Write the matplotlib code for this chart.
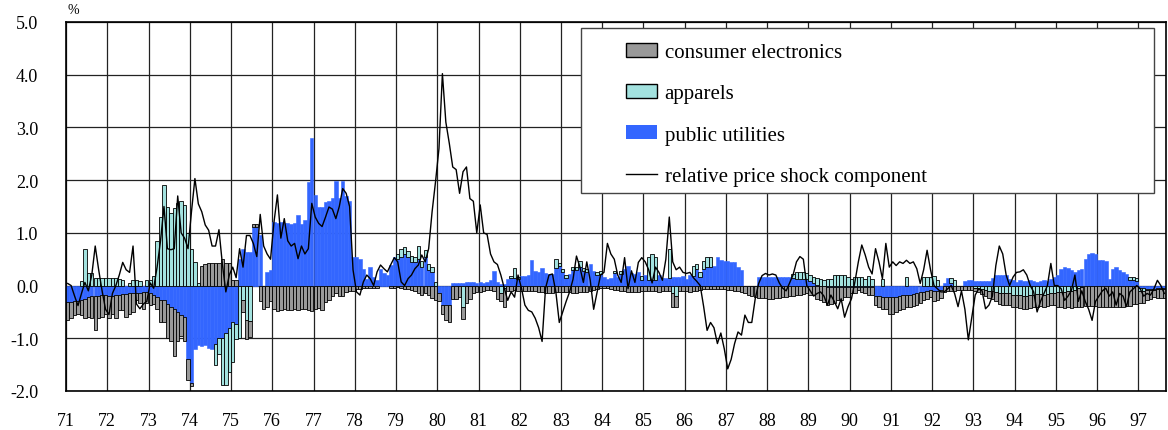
import numpy as np
import matplotlib
matplotlib.use('Agg')
import matplotlib.pyplot as plt
from matplotlib.patches import Rectangle, Patch
from matplotlib.lines import Line2D

plt.rcParams['font.family'] = 'Liberation Serif'
plt.rcParams['axes.unicode_minus'] = False

start_year = 1971

# monthly contributions, one row per year (1971 ... 1997 Aug)
utilities = [
    -0.32, -0.32, -0.3, -0.3, -0.28, -0.25, -0.22, -0.2, -0.2, -0.2, -0.18, -0.18,
    -0.2, -0.2, -0.18, -0.18, -0.16, -0.16, -0.15, -0.15, -0.15, -0.15, -0.12, -0.12,
    -0.15, -0.18, -0.22, -0.28, -0.28, -0.35, -0.4, -0.45, -0.5, -0.55, -0.6, -1.4,
    -1.85, -1.2, -1.13, -1.15, -1.13, -1.18, -1.2, -1.1, -1.0, -1.0, -0.9, -0.8,
    -0.7, -0.72, 0.5, 0.69, 0.64, 0.64, 1.12, 1.12, 0.95, 0.0, 0.26, 0.29,
    1.2, 1.18, 1.2, 1.19, 1.18, 1.17, 1.18, 1.33, 1.16, 1.25, 1.96, 2.79,
    1.72, 1.5, 1.49, 1.58, 1.6, 1.67, 1.98, 1.67, 1.98, 1.7, 1.61, 0.54,
    0.54, 0.51, 0.32, 0.13, 0.35, 0.16, 0.1, 0.32, 0.23, 0.2, 0.39, 0.54,
    0.5, 0.55, 0.6, 0.55, 0.45, 0.45, 0.5, 0.35, 0.55, 0.3, 0.25, 0.0,
    -0.15, -0.37, -0.37, -0.37, 0.05, 0.05, 0.05, 0.05, 0.06, 0.06, 0.06, 0.05,
    0.06, 0.05, 0.06, 0.1, 0.28, 0.06, 0.03, 0.03, 0.12, 0.14, 0.15, 0.12,
    0.19, 0.19, 0.2, 0.48, 0.28, 0.25, 0.34, 0.24, 0.22, 0.22, 0.34, 0.38,
    0.25, 0.15, 0.22, 0.3, 0.3, 0.35, 0.28, 0.26, 0.4, 0.28, 0.2, 0.22,
    0.16, 0.13, 0.14, 0.24, 0.16, 0.22, 0.31, 0.38, 0.24, 0.22, 0.26, 0.1,
    0.2, 0.1, 0.1, 0.1, 0.2, 0.15, 0.15, 0.15, 0.16, 0.16, 0.16, 0.18,
    0.12, 0.2, 0.19, 0.31, 0.16, 0.31, 0.35, 0.35, 0.38, 0.54, 0.48, 0.46,
    0.46, 0.45, 0.45, 0.35, 0.29, 0.0, 0.0, 0.0, 0.0, 0.17, 0.17, 0.17,
    0.17, 0.17, 0.17, 0.17, 0.17, 0.17, 0.17, 0.15, 0.13, 0.13, 0.13, 0.13,
    0.08, 0.05, 0.02, 0.0, 0.0, -0.03, -0.03, -0.03, -0.03, -0.03, -0.03, -0.03,
    -0.03, -0.03, -0.03, -0.02, -0.02, -0.02, -0.02, -0.2, -0.2, -0.22, -0.22, -0.22,
    -0.22, -0.22, -0.2, -0.18, -0.18, -0.18, -0.16, -0.15, -0.13, -0.12, -0.1, -0.08,
    -0.1, -0.1, -0.08, 0.05, 0.15, 0.05, 0.0, 0.0, 0.0, 0.08, 0.1, 0.1,
    0.08, 0.08, 0.08, 0.08, 0.08, 0.15, 0.2, 0.2, 0.2, 0.2, 0.12, 0.1,
    0.07, 0.1, 0.09, 0.08, 0.1, 0.09, 0.07, 0.08, 0.1, 0.08, 0.13, 0.16,
    0.2, 0.32, 0.35, 0.34, 0.3, 0.26, 0.29, 0.32, 0.5, 0.6, 0.62, 0.6,
    0.48, 0.48, 0.46, 0.13, 0.32, 0.35, 0.3, 0.26, 0.22, 0.1, 0.1, 0.08,
    -0.05, -0.05, -0.06, -0.06, -0.06, -0.05, -0.05, -0.05,
]

apparels = [
    0, 0, 0, 0, 0.08, 0.7, 0.24, 0.24, 0.14, 0.14, 0.14, 0.14,
    0.14, 0.14, 0.14, 0.12, 0.1, 0, 0.05, 0.1, 0.1, 0.08, 0, 0.1,
    0.1, 0.19, 0.84, 1.31, 1.9, 1.5, 1.37, 1.47, 1.56, 1.6, 1.53, 1.0,
    0.7, 0.45, 0.05, 0, 0, 0, 0, -0.4, -0.3, -0.89, -0.99, -0.84,
    -0.75, -0.3, -1.0, -0.28, -0.66, -0.68, 0, 0, 0, 0, 0, 0,
    0, 0, 0, 0, 0, 0, 0, 0, 0, 0, 0, 0,
    0, 0, 0, 0, 0, 0, 0, 0, 0, 0, 0, 0,
    0, 0, 0, 0, 0, 0, 0, 0, 0, 0, 0, 0,
    0.1, 0.14, 0.14, 0.1, 0.12, 0.1, 0.25, 0.12, 0.12, 0.1, 0.1, 0.06,
    0, 0, 0, 0, 0, 0, 0, -0.4, 0, 0, 0, 0,
    0, 0, 0, 0, 0, 0, -0.15, -0.05, 0, 0.05, 0.18, 0.05,
    0, 0, 0, 0, 0, 0, 0, 0, 0, 0, 0.16, 0.05,
    0.06, 0.05, 0, 0.05, 0.05, 0.12, 0.05, 0.05, 0, 0, 0.05, 0.05,
    0, 0, 0, 0.04, 0, 0.05, 0, 0, 0, 0, 0, 0.08,
    0, 0.45, 0.5, 0.45, 0, 0, 0, 0.55, -0.15, -0.2, 0, 0,
    0, 0, 0.19, 0.09, 0.1, 0.16, 0.19, 0.19, 0, 0, 0, 0,
    0, 0, 0, 0, 0, 0, 0, 0, 0, 0, 0, 0,
    0, 0, 0, 0, 0, 0, 0, 0.07, 0.12, 0.13, 0.12, 0.1,
    0.13, 0.12, 0.12, 0.13, 0.11, 0.13, 0.12, 0.21, 0.21, 0.21, 0.2, 0.17,
    0.13, 0.16, 0.16, 0.16, 0.13, 0.18, 0.13, 0, 0, 0.13, 0, 0,
    0, 0, 0, 0, 0.16, 0, 0, 0, 0, 0.16, 0.16, 0.16,
    0.19, 0.1, 0, 0, 0, 0.1, 0.1, 0, 0, 0, 0, 0,
    -0.05, -0.05, -0.06, -0.08, -0.1, -0.1, -0.12, -0.15, -0.15, -0.15, -0.15, -0.18,
    -0.18, -0.18, -0.2, -0.2, -0.18, -0.18, -0.16, -0.16, -0.18, -0.16, -0.15, -0.15,
    -0.12, -0.12, -0.12, -0.1, -0.1, -0.08, -0.05, -0.03, 0, 0, 0, 0,
    0, 0, 0, 0, 0, 0, 0, 0, 0, 0.07, 0.07, 0.07,
    -0.05, -0.05, -0.03, -0.03, -0.02, -0.02, -0.02, -0.02,
]

electronics = [
    -0.33, -0.3, -0.26, -0.23, -0.28, -0.37, -0.38, -0.42, -0.64, -0.42, -0.42, -0.35,
    -0.42, -0.33, -0.44, -0.28, -0.31, -0.44, -0.38, -0.35, -0.13, -0.19, -0.32, -0.22,
    -0.22, -0.17, -0.23, -0.41, -0.41, -0.65, -0.65, -0.89, -0.55, -0.4, -0.45, -0.4,
    -0.05, 0, 0, 0.38, 0.4, 0.42, 0.42, 0.42, 0.43, 0.5, 0.42, 0.42,
    0.1, 0.1, 0, -0.22, -0.35, -0.3, 0.05, 0.05, -0.3, -0.45, -0.4, -0.3,
    -0.45, -0.48, -0.47, -0.45, -0.47, -0.47, -0.45, -0.46, -0.44, -0.44, -0.46, -0.48,
    -0.45, -0.42, -0.47, -0.32, -0.28, -0.2, -0.15, -0.2, -0.2, -0.12, -0.1, -0.1,
    -0.06, -0.06, -0.05, -0.05, -0.05, -0.05, -0.05, 0, 0, 0, -0.04, -0.05,
    -0.03, -0.04, -0.06, -0.06, -0.08, -0.1, -0.15, -0.18, -0.15, -0.18, -0.24, -0.27,
    -0.15, -0.16, -0.29, -0.32, -0.25, -0.25, -0.22, -0.23, -0.34, -0.25, -0.15, -0.12,
    -0.12, -0.1, -0.08, -0.08, -0.1, -0.25, -0.15, -0.35, -0.1, -0.1, -0.08, -0.1,
    -0.1, -0.1, -0.1, -0.1, -0.1, -0.12, -0.12, -0.15, -0.15, -0.15, -0.12, -0.12,
    -0.12, -0.12, -0.12, -0.14, -0.14, -0.13, -0.12, -0.12, -0.1, -0.08, -0.06, -0.05,
    -0.05, -0.05, -0.06, -0.08, -0.08, -0.1, -0.1, -0.12, -0.12, -0.12, -0.12, -0.1,
    -0.1, -0.1, -0.1, -0.1, -0.12, -0.1, -0.1, -0.1, -0.25, -0.2, -0.1, -0.1,
    -0.1, -0.12, -0.1, -0.1, -0.08, -0.06, -0.06, -0.06, -0.06, -0.06, -0.06, -0.07,
    -0.08, -0.08, -0.1, -0.1, -0.12, -0.15, -0.18, -0.2, -0.22, -0.24, -0.24, -0.24,
    -0.25, -0.25, -0.24, -0.24, -0.22, -0.22, -0.2, -0.2, -0.18, -0.18, -0.16, -0.15,
    -0.18, -0.18, -0.25, -0.28, -0.32, -0.33, -0.32, -0.3, -0.25, -0.25, -0.18, -0.18,
    -0.12, -0.12, -0.06, -0.1, -0.13, -0.16, -0.16, -0.17, -0.2, -0.22, -0.22, -0.31,
    -0.31, -0.28, -0.27, -0.26, -0.23, -0.23, -0.23, -0.22, -0.21, -0.16, -0.15, -0.14,
    -0.2, -0.18, -0.15, -0.12, -0.1, -0.1, -0.1, -0.08, -0.08, -0.08, -0.08, -0.08,
    -0.06, -0.08, -0.1, -0.12, -0.14, -0.15, -0.18, -0.2, -0.22, -0.22, -0.22, -0.22,
    -0.22, -0.24, -0.24, -0.24, -0.24, -0.22, -0.24, -0.22, -0.22, -0.22, -0.22, -0.22,
    -0.28, -0.28, -0.3, -0.3, -0.32, -0.33, -0.35, -0.37, -0.38, -0.38, -0.38, -0.38,
    -0.4, -0.4, -0.4, -0.4, -0.4, -0.4, -0.4, -0.4, -0.38, -0.38, -0.35, -0.35,
    -0.24, -0.24, -0.19, -0.16, -0.14, -0.16, -0.17, -0.16,
]

shock = [
    0.04, 0.0, -0.2, -0.38, -0.15, 0.06, -0.1, 0.2, 0.75, 0.3, -0.1, -0.45,
    -0.55, -0.15, 0.0, 0.2, 0.44, 0.3, 0.25, 0.75, -0.35, -0.44, -0.35, -0.3,
    0.05, -0.05, 0.35, 0.85, 1.5, 0.7, 0.68, 0.7, 1.7, 1.0, 0.9, 0.7,
    1.4, 2.03, 1.55, 1.4, 1.15, 1.05, 0.75, 0.75, 1.06, 0.4, -0.12, 0.2,
    0.35, 0.15, 0.7, 0.35, 0.95, 0.95, 0.8, 0.55, 1.35, 0.75, 0.6, 0.5,
    1.2, 1.72, 0.9, 1.27, 0.85, 0.75, 0.8, 0.51, 0.75, 0.6, 0.7, 1.56,
    1.3, 1.18, 1.12, 1.3, 1.49, 1.45, 1.27, 1.5, 1.84, 1.75, 1.5, 0.3,
    -0.12, -0.18, 0.07, 0.2, 0.13, 0.0, 0.26, 0.39, 0.32, 0.26, 0.4, 0.53,
    0.45, 0.07, 0.0, 0.13, 0.2, 0.32, 0.39, 0.58, 0.45, 0.7, 1.4, 1.97,
    2.6, 4.02, 3.1, 2.7, 2.25, 2.2, 1.75, 2.16, 2.25, 1.65, 1.6, 1.0,
    1.53, 1.0, 0.97, 0.6, 0.45, 0.4, 0.2, -0.05, -0.28, -0.12, -0.22, 0.2,
    -0.05, -0.37, -0.47, -0.5, -0.62, -0.8, -1.06, -0.05, 0.2, 0.22, -0.12, -0.7,
    -0.5, -0.3, -0.12, 0.12, 0.56, 0.35, 0.06, 0.45, 0.1, -0.45, -0.12, 0.2,
    0.25, 0.8, 0.6, 0.5, 0.2, 0.06, 0.53, -0.06, 0.28, 0.06, 0.44, 0.53,
    0.45, 0.3, 0.05, 0.35, 0.25, 0.1, 0.5, 1.3, 0.45, 0.3, 0.35, 0.25,
    0.23, 0.25, 0.15, 0.08, 0.0, -0.4, -0.85, -0.7, -0.8, -1.1, -0.9, -1.2,
    -1.58, -1.4, -1.1, -0.88, -0.94, -0.56, -0.7, -0.7, -0.25, 0.04, 0.19, 0.23,
    0.2, 0.22, 0.2, 0.05, -0.05, -0.1, 0.05, 0.2, 0.45, 0.55, 0.5, 0.0,
    -0.1, -0.2, -0.15, -0.12, -0.2, -0.37, -0.18, -0.3, -0.44, -0.25, -0.6, -0.4,
    -0.25, 0.07, 0.45, 0.77, 0.58, 0.35, 0.22, 0.7, 0.45, 0.13, 0.8, 0.35,
    0.45, 0.38, 0.45, 0.42, 0.48, 0.42, 0.45, 0.32, 0.04, 0.3, 0.67, 0.3,
    0.0, -0.06, -0.12, -0.12, -0.06, 0.0, -0.15, -0.4, -0.1, -0.45, -1.03, -0.6,
    -0.18, -0.06, -0.1, -0.44, -0.37, -0.2, 0.38, 0.75, 0.6, 0.2, 0.0, 0.16,
    0.25, 0.26, 0.3, 0.2, 0.0, -0.12, -0.5, -0.3, -0.15, 0.0, 0.42, 0.0,
    0.0, -0.06, -0.28, -0.2, -0.09, 0.2, -0.3, -0.1, -0.3, -0.45, -0.66, -0.3,
    -0.2, -0.1, -0.05, -0.2, -0.12, -0.37, -0.15, -0.2, -0.4, -0.12, -0.06, 0.0,
    -0.06, -0.2, -0.15, -0.18, -0.06, 0.1, 0.0, -0.15,
]

year_labels = [str(y % 100) for y in range(1971, 1998)]

blue = '#3366ff'
cyan = '#a3e2df'
gray = '#999999'

n = len(shock)
x = start_year + np.arange(n) / 12.0

fig = plt.figure(figsize=(11.68, 4.31), dpi=100)
ax = fig.add_axes([66 / 1168, 39 / 431, 1100 / 1168, 369 / 431])

pos_base = np.zeros(n)
neg_base = np.zeros(n)
for vals, color, edge in [(utilities, blue, None), (apparels, cyan, 'black'), (electronics, gray, 'black')]:
    v = np.array(vals, dtype=float)
    pos = np.where(v > 0, v, 0.0)
    neg = np.where(v < 0, v, 0.0)
    for part, base in [(pos, pos_base), (neg, neg_base)]:
        m = part != 0
        if edge is None:
            # solid block, no visible seams between months
            ax.bar(x[m], part[m], width=1 / 12, bottom=base[m], align='edge',
                   color=color, edgecolor=color, linewidth=0.4, zorder=2)
        else:
            ax.bar(x[m], part[m], width=1 / 12, bottom=base[m], align='edge',
                   color=color, edgecolor=edge, linewidth=0.6, zorder=2.1)
    pos_base += pos
    neg_base += neg

ax.plot(x + 1 / 24, shock, color='black', lw=1.0, zorder=3)

ax.set_xlim(start_year, start_year + n / 12)
ax.set_ylim(-2, 5)
ax.set_xticks(range(1971, 1998))
ax.set_xticklabels(year_labels)
ax.set_yticks(range(-2, 6))
ax.set_yticklabels([f'{v:.1f}' for v in range(-2, 6)])
ax.tick_params(axis='both', length=0, labelsize=13)
ax.tick_params(axis='x', pad=15)
ax.tick_params(axis='y', pad=20)
ax.grid(True, color='#222222', lw=0.9)
ax.set_axisbelow(True)
for s in ax.spines.values():
    s.set_linewidth(1.2)

fig.text(68 / 1168, 1 - 10 / 431, '%', fontsize=10, va='center', ha='left')

# legend box
frame = Rectangle((581 / 1168, (431 - 194) / 431), 573 / 1168, 165 / 431,
                  transform=fig.transFigure, facecolor='white', edgecolor='#444444',
                  lw=1.0, zorder=4, clip_on=False)
ax.add_patch(frame)

handles = [Patch(facecolor=gray, edgecolor='black', lw=1.0),
           Patch(facecolor=cyan, edgecolor='black', lw=1.0),
           Patch(facecolor=blue, edgecolor='none'),
           Line2D([], [], color='black', lw=1.0)]
labels = ['consumer electronics', 'apparels', 'public utilities', 'relative price shock component']
leg = ax.legend(handles, labels, loc='upper left', bbox_to_anchor=(626 / 1168, 1 - 44 / 431),
                bbox_transform=fig.transFigure, frameon=False, fontsize=15,
                handlelength=1.5, handleheight=0.65, handletextpad=0.35,
                labelspacing=1.05, borderpad=0, borderaxespad=0)
leg.set_zorder(6)

fig.savefig('out.png', dpi=100)
